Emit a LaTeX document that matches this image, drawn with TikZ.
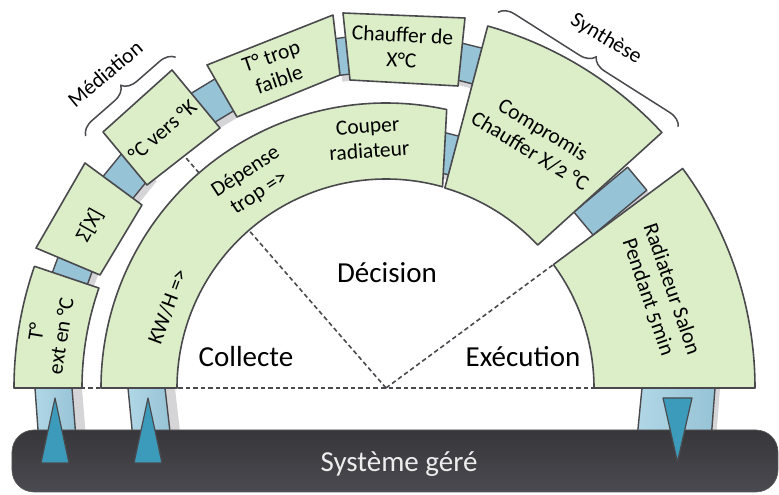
\documentclass[tikz,border=0pt]{standalone}
\usepackage{fontspec}
\setmainfont[Numbers=OldStyle]{Carlito}
\usetikzlibrary{decorations.pathreplacing}
\definecolor{boxgreen}{HTML}{DBEEC7}
\definecolor{edgegray}{HTML}{4A4A4E}
\definecolor{connblue}{HTML}{96C3D6}
\definecolor{connbluel}{HTML}{B1D7E6}
\definecolor{shadowgray}{HTML}{D5D5D8}
\definecolor{tealtri}{HTML}{3C9BBA}
\definecolor{bartop}{HTML}{37363B}
\definecolor{barbot}{HTML}{4B4A50}
\begin{document}
\begin{tikzpicture}[x=1pt,y=1pt,
  ringbox/.style={fill=boxgreen, draw=edgegray, line width=1.6pt, line join=round},
  conn/.style={fill=connblue, draw=edgegray, line width=1.4pt, line join=round},
  shadowfill/.style={fill=shadowgray},
  vbar/.style={left color=connbluel, right color=connblue, draw=edgegray, line width=1.4pt},
  tri/.style={fill=tealtri, draw=edgegray, line width=1.2pt, line join=round},
  sepline/.style={draw=edgegray, line width=1.6pt, dash pattern=on 4.5pt off 3pt},
  lbl/.style={font=\fontsize{21.5}{25}\selectfont, align=center, text=black, inner sep=0pt},
  biglbl/.style={font=\fontsize{29}{32}\selectfont, text=black, inner sep=0pt},
  brc/.style={draw=edgegray, line width=1.5pt, decorate, decoration={brace, amplitude=15pt}},
]
\useasboundingbox (-386,-107) rectangle (393,388);
\coordinate (O) at (0,0);

% dashed separators
\draw[sepline] (O) -- (131:307);
\draw[sepline] (O) -- (36.4:208);
\draw[sepline] (-305,0) -- (208,0);

% connector shadows
\foreach \a/\w in {159.6/22, 140.8/34, 121.2/34, 97.4/16, 76/26} {
  \path[shadowfill, shift={(5,-6)}, rotate=\a] (316,-\w/2) rectangle (353,\w/2);
}
\path[shadowfill, shift={(4,-6)}, rotate=75.8] (222,-11) rectangle (262,11);
\path[shadowfill, shift={(5,-6)}, rotate=39.8] (257,-15) rectangle (327,15);
% vertical bar shadows
\path[shadowfill, shift={(10,0)}] (-351,0) -- (-314,0) -- (-310,-50) -- (-347.4,-50) -- cycle;
\path[shadowfill, shift={(10,0)}] (-258,0) -- (-221,0) -- (-215.3,-50) -- (-253.1,-50) -- cycle;
\path[shadowfill, shift={(5,0)}] (256,0) -- (329,0) -- (325.2,-50) -- (251.1,-50) -- cycle;

% connectors
\foreach \a/\w in {159.6/22, 140.8/34, 121.2/34, 97.4/16, 76/26} {
  \path[conn, rotate=\a] (316,-\w/2) rectangle (353,\w/2);
}
\path[conn, rotate=75.8] (222,-11) rectangle (262,11);
\path[conn, rotate=39.8] (257,-15) rectangle (327,15);

% vertical bars
\path[vbar] (-351,0) -- (-314,0) -- (-310,-50) -- (-347.4,-50) -- cycle;
\path[vbar] (-258,0) -- (-221,0) -- (-215.3,-50) -- (-253.1,-50) -- cycle;
\path[vbar] (256,0) -- (329,0) -- (325.2,-50) -- (251.1,-50) -- cycle;

% outer ring boxes
\path[ringbox] (180:372) arc[start angle=180, end angle=160.9, radius=372]
   -- (160.8:304) arc[start angle=160.8, end angle=180, radius=304] -- cycle;
\path[ringbox] (-301,225) -- (-350,140) -- (-286,113) -- (-244,183) -- cycle;
\path[ringbox] (-214,318) -- (-283,256) -- (-239,203) -- (-166,260) -- cycle;
\path[ringbox] (-179,323) -- (-53,373) -- (-46,313) -- (-149,271) -- cycle;
\path[ringbox] (-43,375) -- (79,370) -- (72,302) -- (-36,308) -- cycle;
% Compromis
\path[ringbox] (74.3:376) arc[start angle=74.3, end angle=42.8, radius=376]
   -- (43.3:208.5) arc[start angle=43.3, end angle=73.6, radius=208.5] -- cycle;
% Radiateur
\path[ringbox] (36.5:369) arc[start angle=36.5, end angle=0, radius=369]
   -- (0:208) arc[start angle=0, end angle=36.4, radius=208] -- cycle;
% inner band
\path[ringbox] (180:285) arc[start angle=180, end angle=77.7, radius=285]
   -- (74.3:209) arc[start angle=74.3, end angle=180, radius=209] -- cycle;

% bottom bar
\path[top color=bartop, bottom color=barbot, draw=gray!70!black, line width=0.6pt, rounded corners=22pt]
  (-374,-42) rectangle (392,-104);
\node[font=\fontsize{29}{32}\selectfont, text=white!93!black, anchor=base, inner sep=0pt] (sys) at (13,-84) {Système géré};

% arrows
\path[tri] (-345,-75) -- (-331,-10) -- (-317,-75) -- cycle;
\path[tri] (-252,-75) -- (-238,-10) -- (-224,-75) -- cycle;
\path[tri] (277,-10) -- (306,-10) -- (291.5,-74) -- cycle;

% braces
\draw[brc] (140:392) -- (122.4:392);
\draw[brc] (73.4:392) -- (41.8:392);
\node[lbl, rotate=40] (med) at (-281,314) {Médiation};
\node[lbl, rotate=-31] (syn) at (220,349) {Synthèse};

% box texts
\node[lbl, rotate=81] (t1) at (170.9:342) {T°\\ext en °C};
\node[lbl, rotate=61] (t2) at (151.2:338) {Σ[X]};
\node[lbl, rotate=41] (t3) at (131:341) {°C vers °K};
\node[lbl, rotate=19] (t4) at (109.1:339) {T° trop\\faible};
\node[lbl, rotate=-2.7] (t5) at (87.3:341) {Chauffer de\\X°C};
\node[lbl, rotate=-31.3] (t6) at (58.7:290) {Compromis\\Chauffer X/2 °C};
\node[lbl, rotate=-71] (t7) at (19.1:290) {Radiateur Salon\\Pendant 5min};
\node[lbl, rotate=69.6] (t8) at (159.6:233) {KW/H =>};
\node[lbl, rotate=33] (t9) at (123:245) {Dépense\\trop =>};
\node[lbl, rotate=4] (t10) at (94:250) {Couper\\radiateur};

% phase labels
\node[biglbl] (col) at (-140,31) {Collecte};
\node[biglbl] (dec) at (1,115) {Décision};
\node[biglbl] (exe) at (137,31) {Exécution};
\end{tikzpicture}
\end{document}
